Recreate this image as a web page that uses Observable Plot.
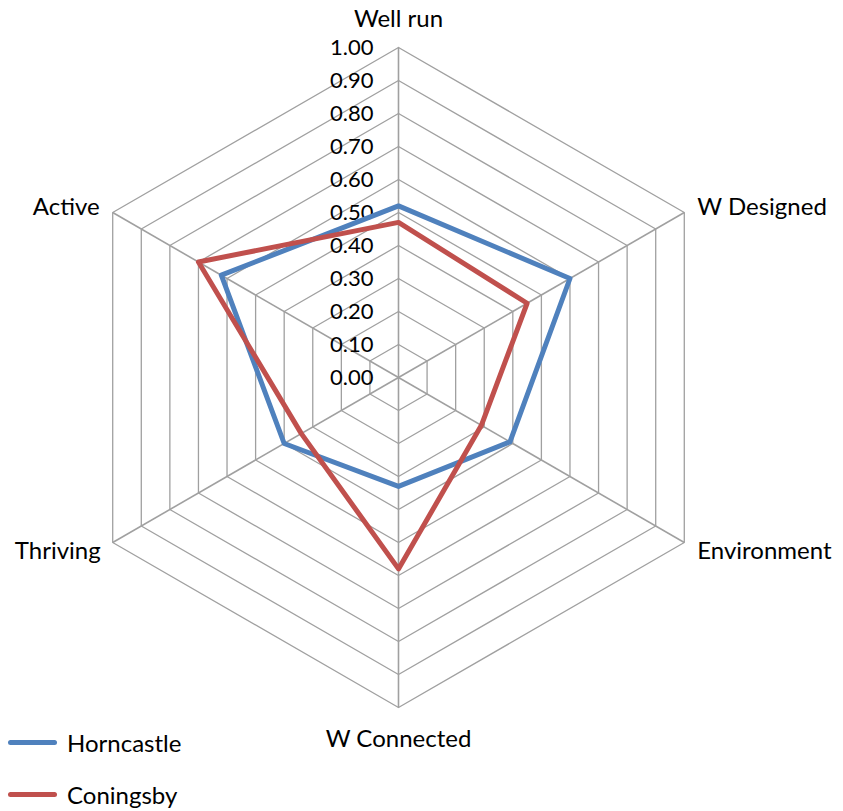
<!DOCTYPE html>
<html>
<head>
<meta charset="utf-8">
<script src="https://cdn.jsdelivr.net/npm/d3@7"></script>
<script src="https://cdn.jsdelivr.net/npm/@observablehq/plot@0.6"></script>
<style>
  html, body { margin: 0; padding: 0; background: #fff; }
  #wrap { position: relative; width: 843px; height: 811px; font-family: Lato, "Open Sans", sans-serif; }
  .leg { position: absolute; left: 0; display: flex; align-items: center; font-size: 24px; color: #000; }
  .leg .sw { width: 49px; height: 5px; border-radius: 3px; margin-left: 8px; margin-right: 10px; }
</style>
</head>
<body>
<div id="wrap"></div>
<script>
// ---- data ----
const categories = ["Well run", "W Designed", "Environment", "W Connected", "Thriving", "Active"];
const seriesNames = ["Horncastle", "Coningsby"];
const horncastle = [0.52, 0.60, 0.39, 0.33, 0.40, 0.62];
const coningsby  = [0.47, 0.45, 0.29, 0.58, 0.34, 0.70];
const tickValues = [0, 0.1, 0.2, 0.3, 0.4, 0.5, 0.6, 0.7, 0.8, 0.9, 1.0];
const tickLabels = ["0.00", "0.10", "0.20", "0.30", "0.40", "0.50", "0.60", "0.70", "0.80", "0.90", "1.00"];
const colors = ["#4F81BD", "#C0504D"];

// ---- geometry helpers ----
const angle = i => Math.PI / 2 - i * Math.PI / 3;
const px = (i, r) => r * Math.cos(angle(i));
const py = (i, r) => r * Math.sin(angle(i));

// grid polygons
const grid = [];
tickValues.slice(1).forEach(t => {
  for (let k = 0; k <= categories.length; k++) {
    const i = k % categories.length;
    grid.push({level: t, x: px(i, t), y: py(i, t)});
  }
});
const spokes = categories.map((c, i) => ({x1: 0, y1: 0, x2: px(i, 1), y2: py(i, 1)}));
const ticks = tickValues.map((t, j) => ({x: 0, y: t, label: tickLabels[j]}));
const labels = categories.map((c, i) => ({name: c, i, x: px(i, 1), y: py(i, 1)}));

const seriesData = [horncastle, coningsby];
const lines = [];
seriesNames.forEach((s, si) => {
  seriesData[si].forEach((v, i) => lines.push({series: s, x: px(i, v), y: py(i, v)}));
});

const W = 843, H = 811, cx = 398, cy = 377, R = 330;
const LF = 24;

const plot = Plot.plot({
  width: W,
  height: H,
  margin: 0,
  style: {fontFamily: "Lato, 'Open Sans', sans-serif", background: "transparent"},
  x: {domain: [-cx / R, (W - cx) / R], axis: null},
  y: {domain: [(cy - H) / R, cy / R], axis: null},
  color: {domain: seriesNames, range: colors},
  marks: [
    Plot.line(grid, {x: "x", y: "y", z: "level", stroke: "#a0a0a0", strokeWidth: 1.3}),
    Plot.link(spokes, {x1: "x1", y1: "y1", x2: "x2", y2: "y2", stroke: "#a0a0a0", strokeWidth: 1.6}),
    Plot.text(ticks, {x: "x", y: "y", text: "label", textAnchor: "end", dx: -25, fontSize: 22, fill: "#000"}),
    Plot.line(lines, {x: "x", y: "y", z: "series", stroke: "series", strokeWidth: 5, curve: "linear-closed", strokeLinejoin: "round"}),
    Plot.text(labels.filter(d => d.i === 0), {x: "x", y: "y", text: "name", dy: -28, fontSize: LF, fill: "#000"}),
    Plot.text(labels.filter(d => d.i === 3), {x: "x", y: "y", text: "name", dy: 32, fontSize: LF, fill: "#000"}),
    Plot.text(labels.filter(d => d.i === 1), {x: "x", y: "y", text: "name", textAnchor: "start", dx: 13, dy: -5, fontSize: LF, fill: "#000"}),
    Plot.text(labels.filter(d => d.i === 2), {x: "x", y: "y", text: "name", textAnchor: "start", dx: 13, dy: 9, fontSize: LF, fill: "#000"}),
    Plot.text(labels.filter(d => d.i === 4), {x: "x", y: "y", text: "name", textAnchor: "end", dx: -12, dy: 9, fontSize: LF, fill: "#000"}),
    Plot.text(labels.filter(d => d.i === 5), {x: "x", y: "y", text: "name", textAnchor: "end", dx: -13, dy: -5, fontSize: LF, fill: "#000"})
  ]
});

const wrap = document.getElementById("wrap");
wrap.appendChild(plot);

// legend
const legendTops = [742, 794];
seriesNames.forEach((s, k) => {
  const d = document.createElement("div");
  d.className = "leg";
  d.style.top = (legendTops[k] - 14) + "px";
  d.style.height = "28px";
  d.innerHTML = `<span class="sw" style="background:${colors[k]}"></span><span>${s}</span>`;
  wrap.appendChild(d);
});
</script>
</body>
</html>
